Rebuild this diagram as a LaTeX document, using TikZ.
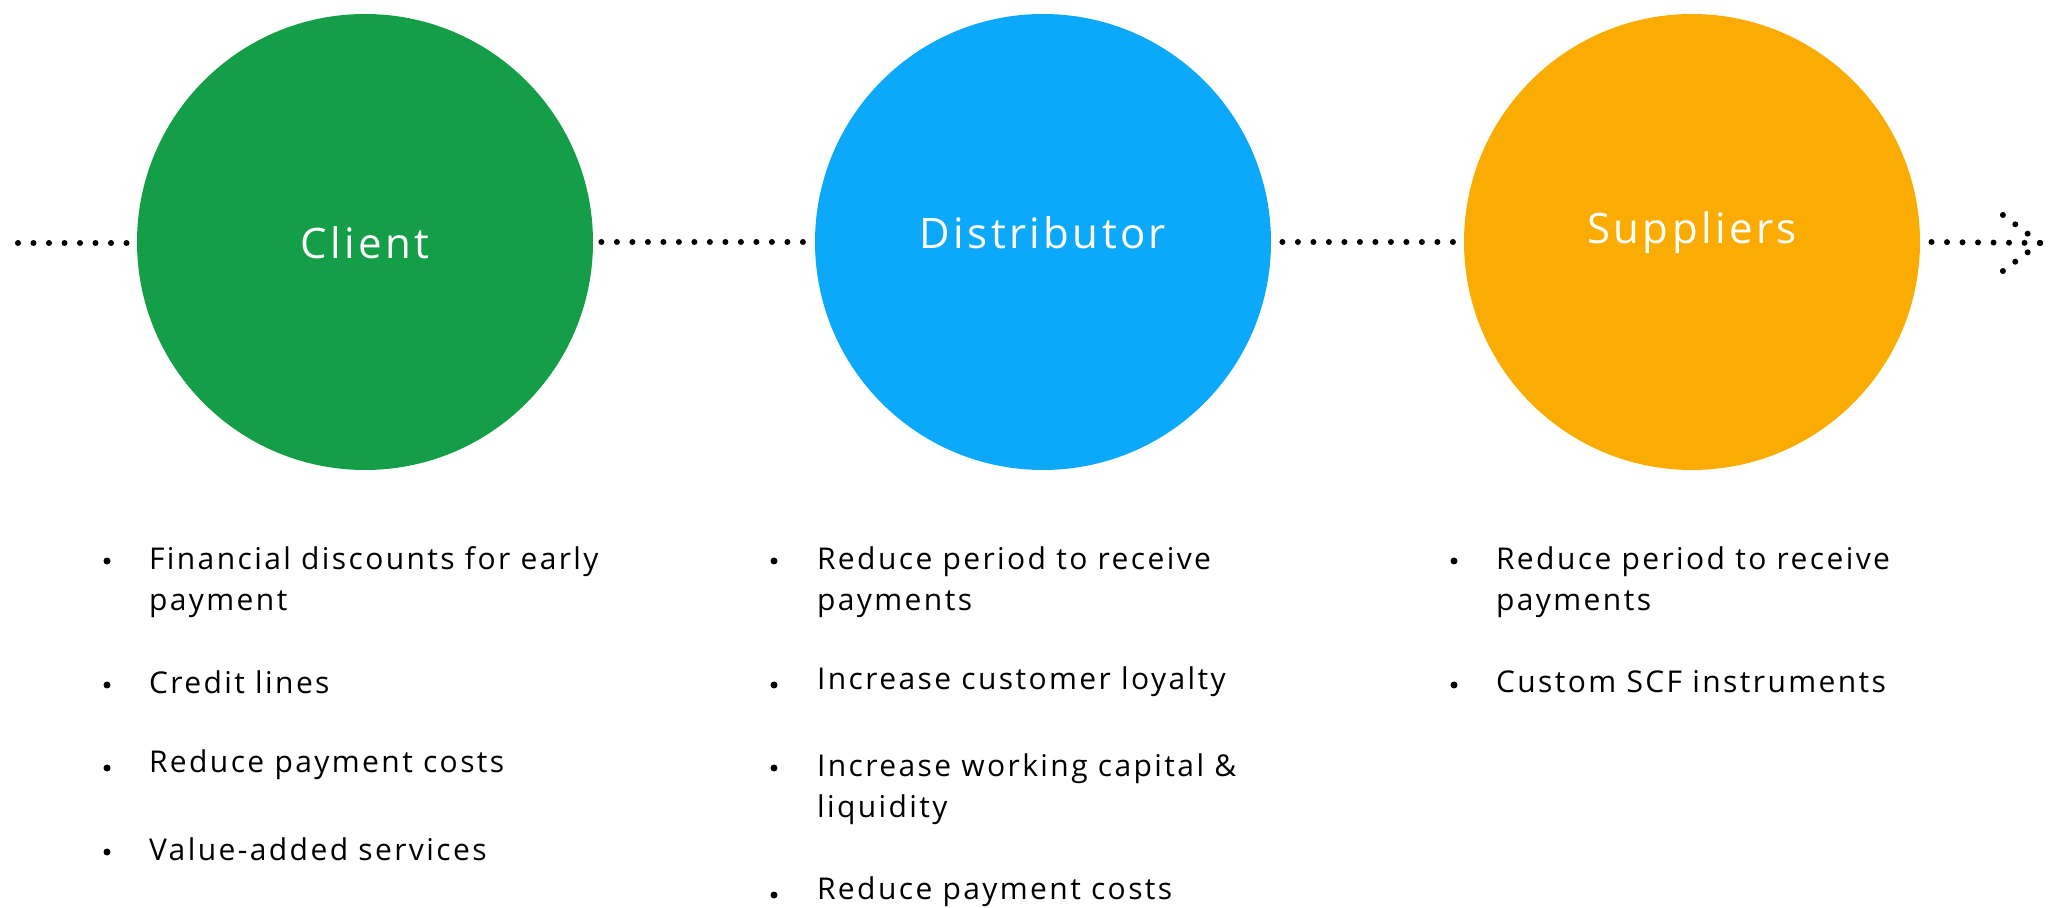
\documentclass[tikz,border=0pt]{standalone}
\usepackage{fontspec}
\setmainfont{Open Sans}[LetterSpace=8]
\usetikzlibrary{calc}
\definecolor{clientgreen}{RGB}{20,158,71}
\definecolor{distblue}{RGB}{12,168,250}
\definecolor{suporange}{RGB}{251,172,2}

\begin{document}
\begin{tikzpicture}[x=0.5pt, y=-0.5pt,
		party/.style={circle, minimum size=228pt, inner sep=0pt},
		partylbl/.style={text=white, font=\fontsize{21}{24}\selectfont},
		dotline/.style={line width=3pt, line cap=round, dash pattern=on 0pt off 7.75pt},
		item/.style={anchor=west, align=left, font=\fontsize{15}{20.5}\selectfont},
		bullet/.style={circle, fill=black, inner sep=0pt, minimum size=3.5pt}]
			%%%%% START %%%%%
			\useasboundingbox (0, 0) rectangle (2057, 908);
			
			\node[party, fill=clientgreen] (client) at (365, 242) {};
			\node[party, fill=distblue] (dist) at (1043, 242) {};
			\node[party, fill=suporange] (sup) at (1692, 242) {};
			\node[partylbl] (clientlbl) at (365, 243) {Client};
			\node[partylbl] (distlbl) at (1043, 233) {Distributor};
			\node[partylbl] (suplbl) at (1692, 233) {Suppliers};
			
			\coordinate (start) at (18, 243);
			\coordinate (tip) at (2040, 243);
			\draw[dotline] (start) -- ($(client.west)+(-4, 1)$);
			\draw[dotline] ($(client.east)+(8, 0)$) -- ($(dist.west)+(-6, 0)$);
			\draw[dotline] ($(dist.east)+(11, 0)$) -- ($(sup.west)+(-6, 0)$);
			\draw[dotline] (tip) -- ($(sup.east)+(10, 0)$);
			\draw[dotline] (tip) -- ++(-41, -31);
			\draw[dotline] (tip) -- ++(-41, 31);
			
			% client list
			\node[bullet] (c1) at (107, 561) {};
			\node[item] (ct1) at (142, 582) {Financial discounts for early\\payment};
			\node[bullet] (c2) at (107, 685) {};
			\node[item] (ct2) at (142, 682) {Credit lines};
			\node[bullet] (c3) at (107, 768) {};
			\node[item] (ct3) at (142, 765) {Reduce payment costs};
			\node[bullet] (c4) at (107, 852) {};
			\node[item] (ct4) at (142, 849) {Value-added services};
			
			% distributor list
			\node[bullet] (d1) at (774, 561) {};
			\node[item] (dt1) at (810, 582) {Reduce period to receive\\payments};
			\node[bullet] (d2) at (774, 685) {};
			\node[item] (dt2) at (810, 682) {Increase customer loyalty};
			\node[bullet] (d3) at (774, 768) {};
			\node[item] (dt3) at (810, 789) {Increase working capital \&\\liquidity};
			\node[bullet] (d4) at (774, 895) {};
			\node[item] (dt4) at (810, 892) {Reduce payment costs};
			
			% supplier list
			\node[bullet] (s1) at (1454, 561) {};
			\node[item] (st1) at (1489, 582) {Reduce period to receive\\payments};
			\node[bullet] (s2) at (1454, 685) {};
			\node[item] (st2) at (1489, 682) {Custom SCF instruments};
			%%%%% END %%%%%
		\end{tikzpicture}
\end{document}
